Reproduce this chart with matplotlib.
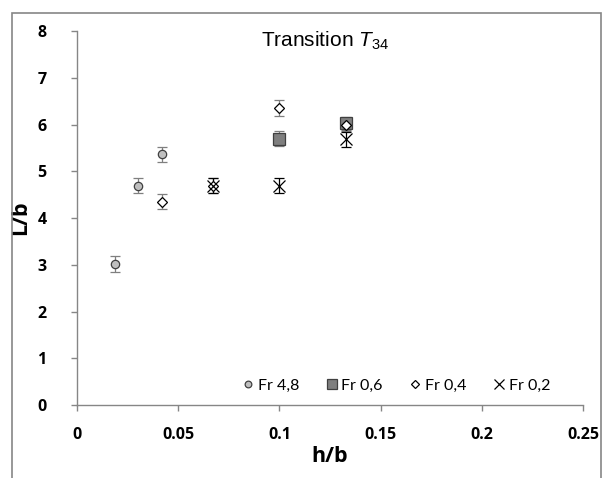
import matplotlib
matplotlib.use("Agg")
import matplotlib.pyplot as plt
from matplotlib.patches import Rectangle

plt.rcParams['mathtext.fontset'] = 'custom'
plt.rcParams['mathtext.rm'] = 'Liberation Sans'
plt.rcParams['mathtext.it'] = 'Liberation Sans:italic'

# data
fr48_x = [0.019, 0.030, 0.042]
fr48_y = [3.02, 4.69, 5.36]
fr48_err = [0.17, 0.16, 0.16]

fr06_x = [0.100, 0.133]
fr06_y = [5.70, 6.03]
fr06_err = [0.16, 0.14]

fr04_x = [0.042, 0.067, 0.100, 0.133]
fr04_y = [4.35, 4.69, 6.35, 6.00]
fr04_err = [0.16, 0.16, 0.17, 0.14]

fr02_x = [0.067, 0.100, 0.133]
fr02_y = [4.69, 4.69, 5.68]
fr02_err = [0.16, 0.16, 0.16]

xticks = [0, 0.05, 0.1, 0.15, 0.2, 0.25]
xlabels = ['0', '0.05', '0.1', '0.15', '0.2', '0.25']
yticks = [0, 1, 2, 3, 4, 5, 6, 7, 8]

fig = plt.figure(figsize=(6.03, 4.78), dpi=100)
ax = fig.add_axes([0.1277, 0.1527, 0.8391, 0.7824])

grey = '#868686'

# error bars
ax.errorbar(fr48_x, fr48_y, yerr=fr48_err, fmt='none', ecolor='#7f7f7f', elinewidth=0.9, capsize=3.5, capthick=0.9)
ax.errorbar(fr06_x, fr06_y, yerr=fr06_err, fmt='none', ecolor='#7f7f7f', elinewidth=0.9, capsize=3.5, capthick=0.9)
ax.errorbar(fr04_x, fr04_y, yerr=fr04_err, fmt='none', ecolor='#7f7f7f', elinewidth=0.9, capsize=3.5, capthick=0.9)
ax.errorbar(fr02_x, fr02_y, yerr=fr02_err, fmt='none', ecolor='black', elinewidth=0.9, capsize=3.5, capthick=0.9)

# markers
ax.plot(fr48_x, fr48_y, 'o', ms=6, mfc='#bfbfbf', mec='#404040', mew=0.9, label='Fr 4,8', zorder=3)
ax.plot(fr06_x, fr06_y, 's', ms=8.5, mfc='#7f7f7f', mec='#404040', mew=0.9, label='Fr 0,6', zorder=3)
ax.plot(fr04_x, fr04_y, 'D', ms=5.5, mfc='white', mec='black', mew=0.9, label='Fr 0,4', zorder=4)
ax.plot(fr02_x, fr02_y, 'x', ms=9, mec='black', mew=0.9, label='Fr 0,2', zorder=5)

ax.set_xlim(0, 0.25)
ax.set_ylim(0, 8)
ax.set_xticks(xticks)
ax.set_xticklabels(xlabels)
ax.set_yticks(yticks)

for s in ['top', 'right']:
    ax.spines[s].set_visible(False)
for s in ['left', 'bottom']:
    ax.spines[s].set_color(grey)
    ax.spines[s].set_linewidth(1)

ax.tick_params(axis='both', direction='out', length=4, width=1, color=grey)
ax.tick_params(axis='y', pad=18)
ax.tick_params(axis='x', pad=12)
for lab in ax.get_xticklabels() + ax.get_yticklabels():
    lab.set_fontfamily('Open Sans')
    lab.set_fontweight('bold')
    lab.set_fontsize(11.5)

ax.set_xlabel('h/b', fontfamily='Open Sans', fontweight='bold', fontsize=15.5, labelpad=2)
ax.set_ylabel('L/b', fontfamily='Open Sans', fontweight='bold', fontsize=15.5, labelpad=2)
ax.yaxis.set_label_coords(-0.09, 0.5)

leg = ax.legend(loc='center', bbox_to_anchor=(0.632, 0.051), ncol=4, frameon=False,
                prop={'family': 'Lato', 'size': 11.5}, handlelength=0.6, handletextpad=0.3,
                columnspacing=1.75, markerscale=0.8)

fig.text(0.539, 0.9017, r'Transition $\mathit{T_{34}}$', fontfamily='Liberation Sans',
         fontsize=15, ha='center', va='baseline')

# outer frame
fig.patches.append(Rectangle((12 / 603, -0.05), 589 / 603, 1.05 - 13 / 478, transform=fig.transFigure,
                             fill=False, edgecolor=grey, linewidth=1.2))

fig.savefig('out.png', dpi=100)
